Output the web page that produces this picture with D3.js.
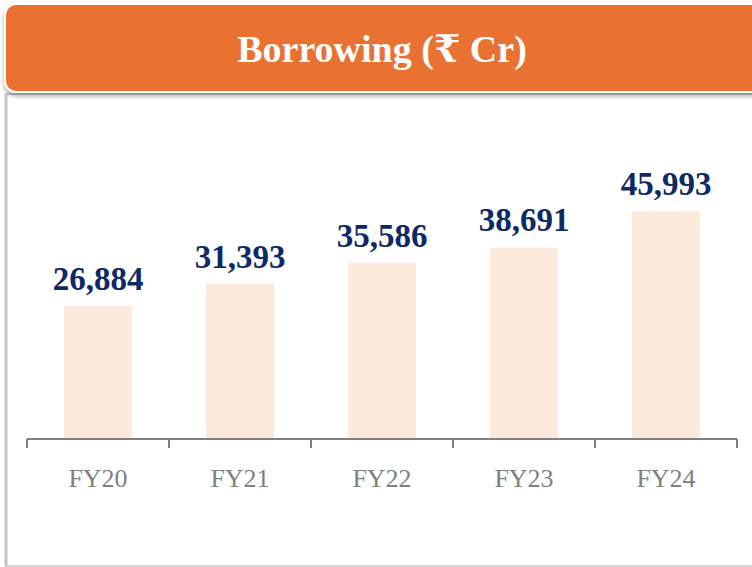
<!DOCTYPE html>
<html>
<head>
<meta charset="utf-8">
<script src="https://cdn.jsdelivr.net/npm/d3@7"></script>
<style>
  body { margin: 0; background: #fff; }
  svg { display: block; }
</style>
</head>
<body>
<script>
var years = ['FY20', 'FY21', 'FY22', 'FY23', 'FY24'];
var borrowing = [26884, 31393, 35586, 38691, 45993];
var title = 'Borrowing (₹ Cr)';

var width = 752, height = 567;
var baseY = 439;

var svg = d3.select('body').append('svg')
    .attr('width', width)
    .attr('height', height);

var defs = svg.append('defs');
var f = defs.append('filter').attr('id', 'shadow')
    .attr('x', '-5%').attr('y', '-20%').attr('width', '110%').attr('height', '150%');
f.append('feDropShadow').attr('dx', 0).attr('dy', 3).attr('stdDeviation', 2)
    .attr('flood-color', '#000').attr('flood-opacity', 0.35);

// panel
svg.append('rect')
    .attr('x', 6).attr('y', 94)
    .attr('width', 760).attr('height', 472)
    .attr('fill', '#fff')
    .attr('stroke', '#d4d4d4')
    .attr('stroke-width', 2);
svg.append('line')
    .attr('x1', 6).attr('x2', 6).attr('y1', 94).attr('y2', 566)
    .attr('stroke', '#c4c4c4').attr('stroke-width', 3);

// header
svg.append('rect')
    .attr('x', 5).attr('y', 4)
    .attr('width', 770).attr('height', 88)
    .attr('rx', 11)
    .attr('fill', '#E97132')
    .attr('stroke', '#fff')
    .attr('stroke-width', 2)
    .attr('filter', 'url(#shadow)');

svg.append('text')
    .attr('x', 382).attr('y', 62)
    .attr('text-anchor', 'middle')
    .attr('fill', '#fff')
    .attr('font-family', 'Liberation Serif, DejaVu Serif, serif')
    .attr('font-weight', 'bold')
    .attr('font-size', 38)
    .text(title);

var x = d3.scaleBand()
    .domain(years)
    .range([27, 737])
    .paddingInner(0.52)
    .paddingOuter(0.26);

var y = d3.scaleLinear()
    .domain([0, 50000])
    .range([baseY, baseY - 247.5]);

svg.selectAll('rect.bar')
    .data(borrowing)
    .enter()
    .append('rect')
    .attr('class', 'bar')
    .attr('x', function(d, i) { return x(years[i]); })
    .attr('y', function(d) { return y(d); })
    .attr('width', x.bandwidth())
    .attr('height', function(d) { return baseY - y(d); })
    .attr('fill', '#FCE9DB');

svg.selectAll('text.val')
    .data(borrowing)
    .enter()
    .append('text')
    .attr('class', 'val')
    .attr('x', function(d, i) { return x(years[i]) + x.bandwidth() / 2; })
    .attr('y', function(d) { return y(d) - 16; })
    .attr('text-anchor', 'middle')
    .attr('fill', '#0E2A66')
    .attr('font-family', 'Liberation Serif, DejaVu Serif, serif')
    .attr('font-weight', 'bold')
    .attr('font-size', 33)
    .style('font-variant-numeric', 'oldstyle-nums')
    .text(function(d) { return d3.format(',')(d); });

// axis
var step = x.step();
var tickXs = d3.range(years.length + 1).map(function(i) { return 27 + i * step; });
var ax = svg.append('g');
ax.append('line')
    .attr('x1', 27).attr('x2', 737)
    .attr('y1', baseY).attr('y2', baseY)
    .attr('stroke', '#808080').attr('stroke-width', 2);
ax.selectAll('line.tick')
    .data(tickXs)
    .enter()
    .append('line')
    .attr('class', 'tick')
    .attr('x1', function(d) { return d; }).attr('x2', function(d) { return d; })
    .attr('y1', baseY).attr('y2', baseY + 9)
    .attr('stroke', '#808080').attr('stroke-width', 2);

ax.selectAll('text.cat')
    .data(years)
    .enter()
    .append('text')
    .attr('class', 'cat')
    .attr('x', function(d) { return x(d) + x.bandwidth() / 2; })
    .attr('y', 487)
    .attr('text-anchor', 'middle')
    .attr('fill', '#808080')
    .attr('font-family', 'Liberation Serif, DejaVu Serif, serif')
    .attr('font-size', 26)
    .style('font-variant-numeric', 'oldstyle-nums')
    .text(function(d) { return d; });
</script>
</body>
</html>
